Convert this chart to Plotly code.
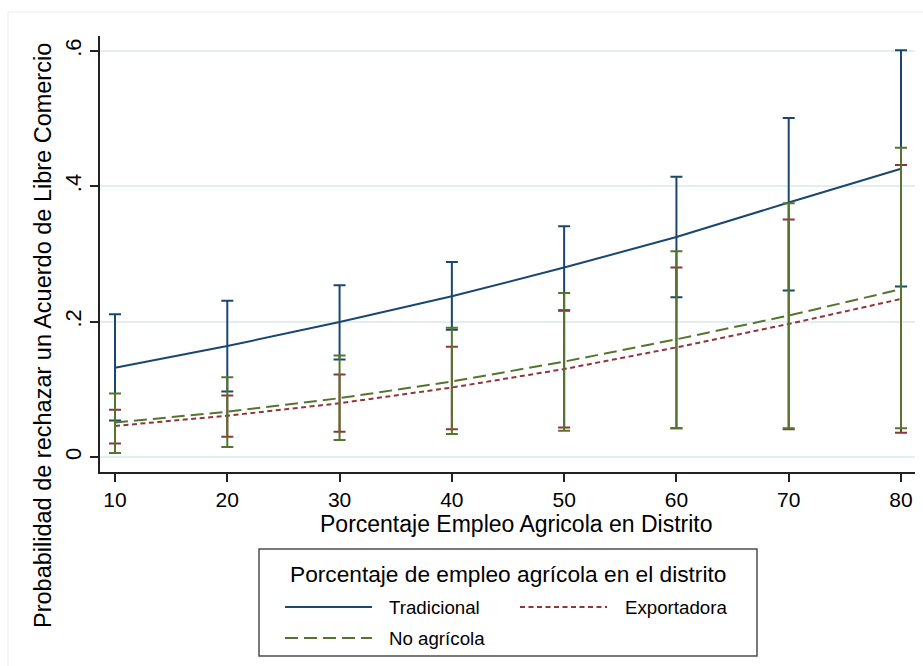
import plotly.graph_objects as go

# Predicted probabilities with 95% confidence intervals
pct_agri = [10, 20, 30, 40, 50, 60, 70, 80]

trad = [0.132, 0.164, 0.1995, 0.2375, 0.280, 0.325, 0.376, 0.426]
trad_lo = [0.054, 0.097, 0.144, 0.188, 0.217, 0.236, 0.246, 0.252]
trad_hi = [0.211, 0.231, 0.254, 0.288, 0.341, 0.414, 0.501, 0.601]

expo = [0.046, 0.061, 0.0795, 0.1027, 0.130, 0.162, 0.1966, 0.2336]
expo_lo = [0.020, 0.030, 0.0375, 0.041, 0.0435, 0.0425, 0.041, 0.036]
expo_hi = [0.070, 0.091, 0.122, 0.163, 0.216, 0.280, 0.351, 0.4316]

noag = [0.051, 0.067, 0.087, 0.1116, 0.141, 0.174, 0.209, 0.248]
noag_lo = [0.006, 0.015, 0.025, 0.034, 0.039, 0.0425, 0.0425, 0.0425]
noag_hi = [0.094, 0.118, 0.150, 0.191, 0.2425, 0.304, 0.375, 0.457]

x_ticks = [10, 20, 30, 40, 50, 60, 70, 80]
y_ticks = [0, 0.2, 0.4, 0.6]
y_tick_text = ["0", ".2", ".4", ".6"]

series = [
    ("Tradicional", trad, trad_lo, trad_hi, "#1a476f", "solid"),
    ("Exportadora", expo, expo_lo, expo_hi, "#90353b", "5px,3.5px"),
    ("No agrícola", noag, noag_lo, noag_hi, "#55752f", "13px,6px"),
]

FONT = "Liberation Sans, Arial, Helvetica, sans-serif"

fig = go.Figure()
for name, y, lo, hi, color, dash in series:
    fig.add_trace(go.Scatter(
        x=pct_agri, y=y, name=name, mode="lines",
        line=dict(color=color, width=2, dash=dash),
        error_y=dict(
            type="data", symmetric=False,
            array=[h - v for h, v in zip(hi, y)],
            arrayminus=[v - l for v, l in zip(y, lo)],
            color=color, thickness=2, width=6,
        ),
        showlegend=False,
    ))

L, R, T, B = 100, 8, 36, 194
W, H = 923, 666
pw, ph = W - L - R, H - T - B


def px(xp):
    return (xp - L) / pw


def py(yp):
    return (H - B - yp) / ph


shapes = [
    # faint outer frame
    dict(type="rect", xref="paper", yref="paper",
         x0=px(8), x1=px(930), y0=py(670), y1=py(12),
         line=dict(color="#ececec", width=1), layer="below"),
    # legend box
    dict(type="rect", xref="paper", yref="paper",
         x0=px(259), x1=px(757), y0=py(656), y1=py(549),
         line=dict(color="#4d4d4d", width=1.5), fillcolor="white"),
]
annotations = [
    dict(text="Probabilidad de rechazar un Acuerdo de Libre Comercio",
         xref="paper", yref="paper", x=px(43), y=py(336), textangle=-90,
         showarrow=False, xanchor="center", yanchor="middle",
         font=dict(family=FONT, size=23.5, color="black")),
    dict(text="Porcentaje Empleo Agricola en Distrito",
         xref="paper", yref="paper", x=px(516), y=py(524),
         showarrow=False, xanchor="center", yanchor="middle",
         font=dict(family=FONT, size=23, color="black")),
    dict(text="Porcentaje de empleo agrícola en el distrito",
         xref="paper", yref="paper", x=px(508), y=py(574),
         showarrow=False, xanchor="center", yanchor="middle",
         font=dict(family=FONT, size=22.7, color="black")),
]

# legend keys: (line start x, row y, text x)
legend_pos = [(285, 607, 387), (520, 607, 623), (285, 638, 387)]
for (name, _, _, _, color, dash), (lx, ly, tx) in zip(series, legend_pos):
    shapes.append(dict(type="line", xref="paper", yref="paper",
                       x0=px(lx), x1=px(lx + 87), y0=py(ly), y1=py(ly),
                       line=dict(color=color, width=2, dash=dash)))
    annotations.append(dict(text=name, xref="paper", yref="paper",
                            x=px(tx), y=py(ly), showarrow=False,
                            xanchor="left", yanchor="middle",
                            font=dict(family=FONT, size=18.7, color="black")))

fig.update_layout(
    width=W, height=H,
    margin=dict(l=L, r=R, t=T, b=B),
    paper_bgcolor="white", plot_bgcolor="white",
    font=dict(family=FONT, color="black"),
    shapes=shapes, annotations=annotations,
    xaxis=dict(
        range=[8.664, 81.247], tickvals=x_ticks,
        ticks="outside", ticklen=8, tickwidth=1.5, tickcolor="#222",
        showline=True, linecolor="#222", linewidth=1.5,
        showgrid=False, zeroline=False,
        tickfont=dict(family=FONT, size=21, color="black"),
    ),
    yaxis=dict(
        range=[-0.0221, 0.6221], tickvals=y_ticks, ticktext=y_tick_text,
        tickangle=-90,
        ticks="outside", ticklen=8, tickwidth=1.5, tickcolor="#222",
        showline=True, linecolor="#222", linewidth=1.5,
        showgrid=True, gridcolor="#e4edf0", gridwidth=1.5,
        zeroline=False,
        tickfont=dict(family=FONT, size=22, color="black"),
    ),
)

fig.write_html("out.html")
